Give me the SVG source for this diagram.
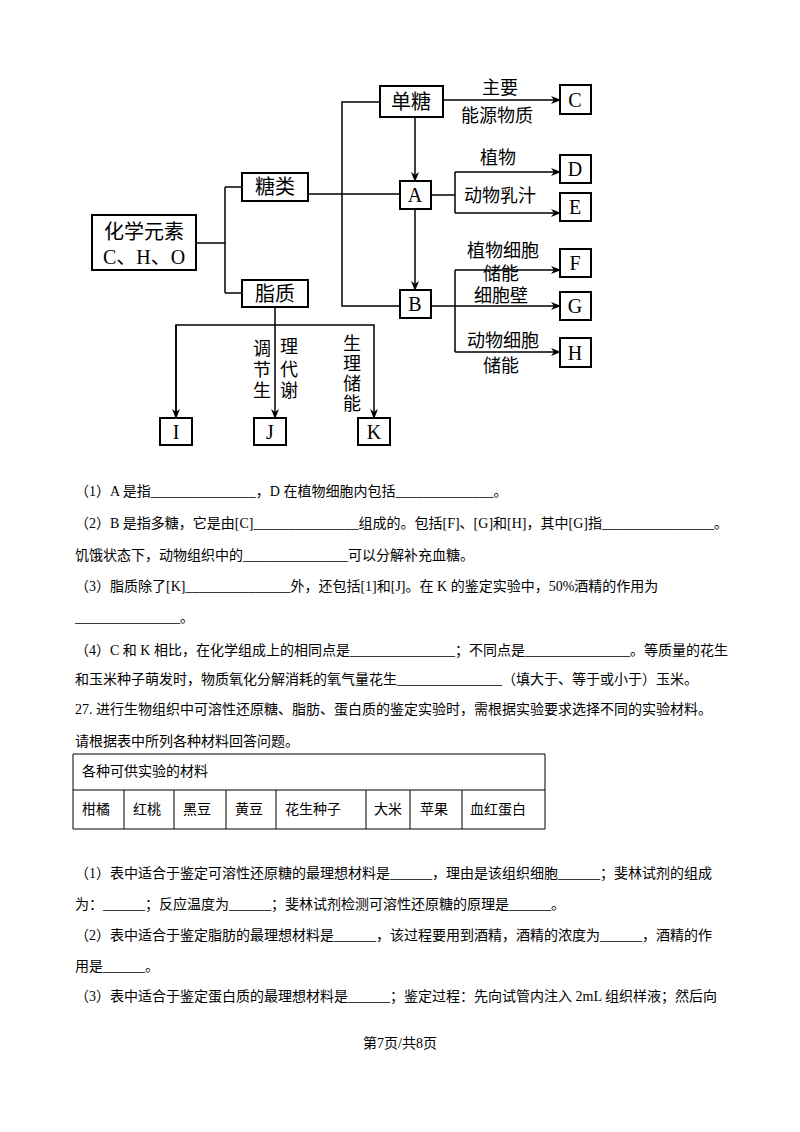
<svg xmlns="http://www.w3.org/2000/svg" width="800" height="1132" viewBox="0 0 800 1132">
<defs>
<marker id="ar" markerWidth="10" markerHeight="8" refX="9" refY="4" orient="auto" markerUnits="userSpaceOnUse"><path d="M0,0 L10,4 L0,8 L3,4 Z" fill="#000"/></marker>
<style>
.b{fill:#fff;stroke:#000;stroke-width:2}
.n{font-family:"Liberation Serif","Noto Sans CJK SC",serif;font-size:20px;fill:#000;text-anchor:middle}
.l{font-family:"Liberation Serif","Noto Sans CJK SC",serif;font-size:18px;fill:#000;text-anchor:middle}
.c{fill:none;stroke:#000;stroke-width:1.5}
.t{font-family:"Liberation Serif","Noto Sans CJK SC",serif;font-size:14px;fill:#000}
.g{fill:none;stroke:#000;stroke-width:1}
</style>
</defs>
<rect width="800" height="1132" fill="#fff"/>
<g id="connectors">
<path class="c" d="M196,243 H225 M225,187 V293 M225,187 H242 M225,293 H242"/>
<path class="c" d="M308,194 H400"/>
<path class="c" d="M380,102 H342 V306 H400"/>
<path class="c" d="M415,117 V181" marker-end="url(#ar)"/>
<path class="c" d="M415,209 V290" marker-end="url(#ar)"/>
<path class="c" d="M443,100 H560" marker-end="url(#ar)"/>
<path class="c" d="M431,195 H455 M455,172 V213"/>
<path class="c" d="M455,172 H560" marker-end="url(#ar)"/>
<path class="c" d="M455,213 H560" marker-end="url(#ar)"/>
<path class="c" d="M431,306 H560" marker-end="url(#ar)"/>
<path class="c" d="M455,270 V352"/>
<path class="c" d="M455,270 H560" marker-end="url(#ar)"/>
<path class="c" d="M455,352 H560" marker-end="url(#ar)"/>
<path class="c" d="M275,307 V418" marker-end="url(#ar)"/>
<path class="c" d="M176,418 V325 H374 V418" marker-end="url(#ar)"/>
<path class="c" d="M176,325 V418" marker-end="url(#ar)"/>
<text class="l" x="500" y="94">主要</text>
<text class="l" x="497" y="122">能源物质</text>
<text class="l" x="498" y="164">植物</text>
<text class="l" x="500" y="202">动物乳汁</text>
<text class="l" x="503" y="257">植物细胞</text>
<text class="l" x="501" y="280">储能</text>
<text class="l" x="501" y="302">细胞壁</text>
<text class="l" x="503" y="347">动物细胞</text>
<text class="l" x="501" y="372">储能</text>
<text class="l" x="262" y="355">调</text><text class="l" x="262" y="376">节</text><text class="l" x="262" y="397">生</text>
<text class="l" x="289" y="353">理</text><text class="l" x="289" y="376">代</text><text class="l" x="289" y="397">谢</text>
<text class="l" x="352" y="350">生</text><text class="l" x="352" y="370">理</text><text class="l" x="352" y="390">储</text><text class="l" x="352" y="410">能</text>
</g>
<g id="n-elem"><rect class="b" x="92" y="215" width="104" height="55"/><text class="n" x="144" y="239">化学元素</text><text class="n" x="144" y="264">C、H、O</text></g>
<g id="n-tang"><rect class="b" x="242" y="173" width="66" height="28"/><text class="n" x="275" y="194">糖类</text></g>
<g id="n-zhi"><rect class="b" x="242" y="280" width="66" height="27"/><text class="n" x="275" y="301">脂质</text></g>
<g id="n-dan"><rect class="b" x="380" y="86" width="63" height="31"/><text class="n" x="411" y="109">单糖</text></g>
<g id="n-A"><rect class="b" x="400" y="181" width="31" height="28"/><text class="n" x="415" y="202">A</text></g>
<g id="n-B"><rect class="b" x="400" y="290" width="31" height="28"/><text class="n" x="415" y="311">B</text></g>
<g id="n-C"><rect class="b" x="560" y="85" width="31" height="29"/><text class="n" x="575" y="107">C</text></g>
<g id="n-D"><rect class="b" x="560" y="155" width="31" height="28"/><text class="n" x="575" y="176">D</text></g>
<g id="n-E"><rect class="b" x="560" y="193" width="31" height="28"/><text class="n" x="575" y="214">E</text></g>
<g id="n-F"><rect class="b" x="560" y="249" width="31" height="28"/><text class="n" x="575" y="270">F</text></g>
<g id="n-G"><rect class="b" x="560" y="292" width="31" height="28"/><text class="n" x="575" y="313">G</text></g>
<g id="n-H"><rect class="b" x="560" y="338" width="31" height="29"/><text class="n" x="575" y="360">H</text></g>
<g id="n-I"><rect class="b" x="160" y="418" width="32" height="27"/><text class="n" x="176" y="439">I</text></g>
<g id="n-J"><rect class="b" x="254" y="418" width="32" height="27"/><text class="n" x="270" y="439">J</text></g>
<g id="n-K"><rect class="b" x="358" y="418" width="32" height="27"/><text class="n" x="374" y="439">K</text></g>
<g id="text">
<text class="t" x="75" y="496">（1）A 是指_______________，D 在植物细胞内包括______________。</text>
<text class="t" x="75" y="528">（2）B 是指多糖，它是由[C]_______________组成的。包括[F]、[G]和[H]，其中[G]指________________。</text>
<text class="t" x="75" y="560">饥饿状态下，动物组织中的_______________可以分解补充血糖。</text>
<text class="t" x="75" y="591">（3）脂质除了[K]_______________外，还包括[1]和[J]。在 K 的鉴定实验中，50%酒精的作用为</text>
<text class="t" x="75" y="622">_______________。</text>
<text class="t" x="75" y="655">（4）C 和 K 相比，在化学组成上的相同点是_______________；不同点是_______________。等质量的花生</text>
<text class="t" x="75" y="684">和玉米种子萌发时，物质氧化分解消耗的氧气量花生_______________（填大于、等于或小于）玉米。</text>
<text class="t" x="75" y="714">27. 进行生物组织中可溶性还原糖、脂肪、蛋白质的鉴定实验时，需根据实验要求选择不同的实验材料。</text>
<text class="t" x="75" y="746">请根据表中所列各种材料回答问题。</text>
<text class="t" x="75" y="878">（1）表中适合于鉴定可溶性还原糖的最理想材料是______，理由是该组织细胞______；斐林试剂的组成</text>
<text class="t" x="75" y="909">为：______；反应温度为______；斐林试剂检测可溶性还原糖的原理是______。</text>
<text class="t" x="75" y="940">（2）表中适合于鉴定脂肪的最理想材料是______，该过程要用到酒精，酒精的浓度为______，酒精的作</text>
<text class="t" x="75" y="971">用是______。</text>
<text class="t" x="75" y="1001">（3）表中适合于鉴定蛋白质的最理想材料是______；鉴定过程：先向试管内注入 2mL 组织样液；然后向</text>
<text class="t" x="400" y="1048" text-anchor="middle">第7页/共8页</text>
</g>
<g id="table">
<path class="g" d="M73,754 H545 V829 H73 Z M73,790 H545 M124,790 V829 M174,790 V829 M226,790 V829 M276,790 V829 M366,790 V829 M410,790 V829 M462,790 V829"/>
<text class="t" x="82" y="776">各种可供实验的材料</text>
<text class="t" x="82" y="814">柑橘</text><text class="t" x="133" y="814">红桃</text><text class="t" x="183" y="814">黑豆</text><text class="t" x="235" y="814">黄豆</text><text class="t" x="285" y="814">花生种子</text><text class="t" x="374" y="814">大米</text><text class="t" x="420" y="814">苹果</text><text class="t" x="470" y="814">血红蛋白</text>
</g>
</svg>
